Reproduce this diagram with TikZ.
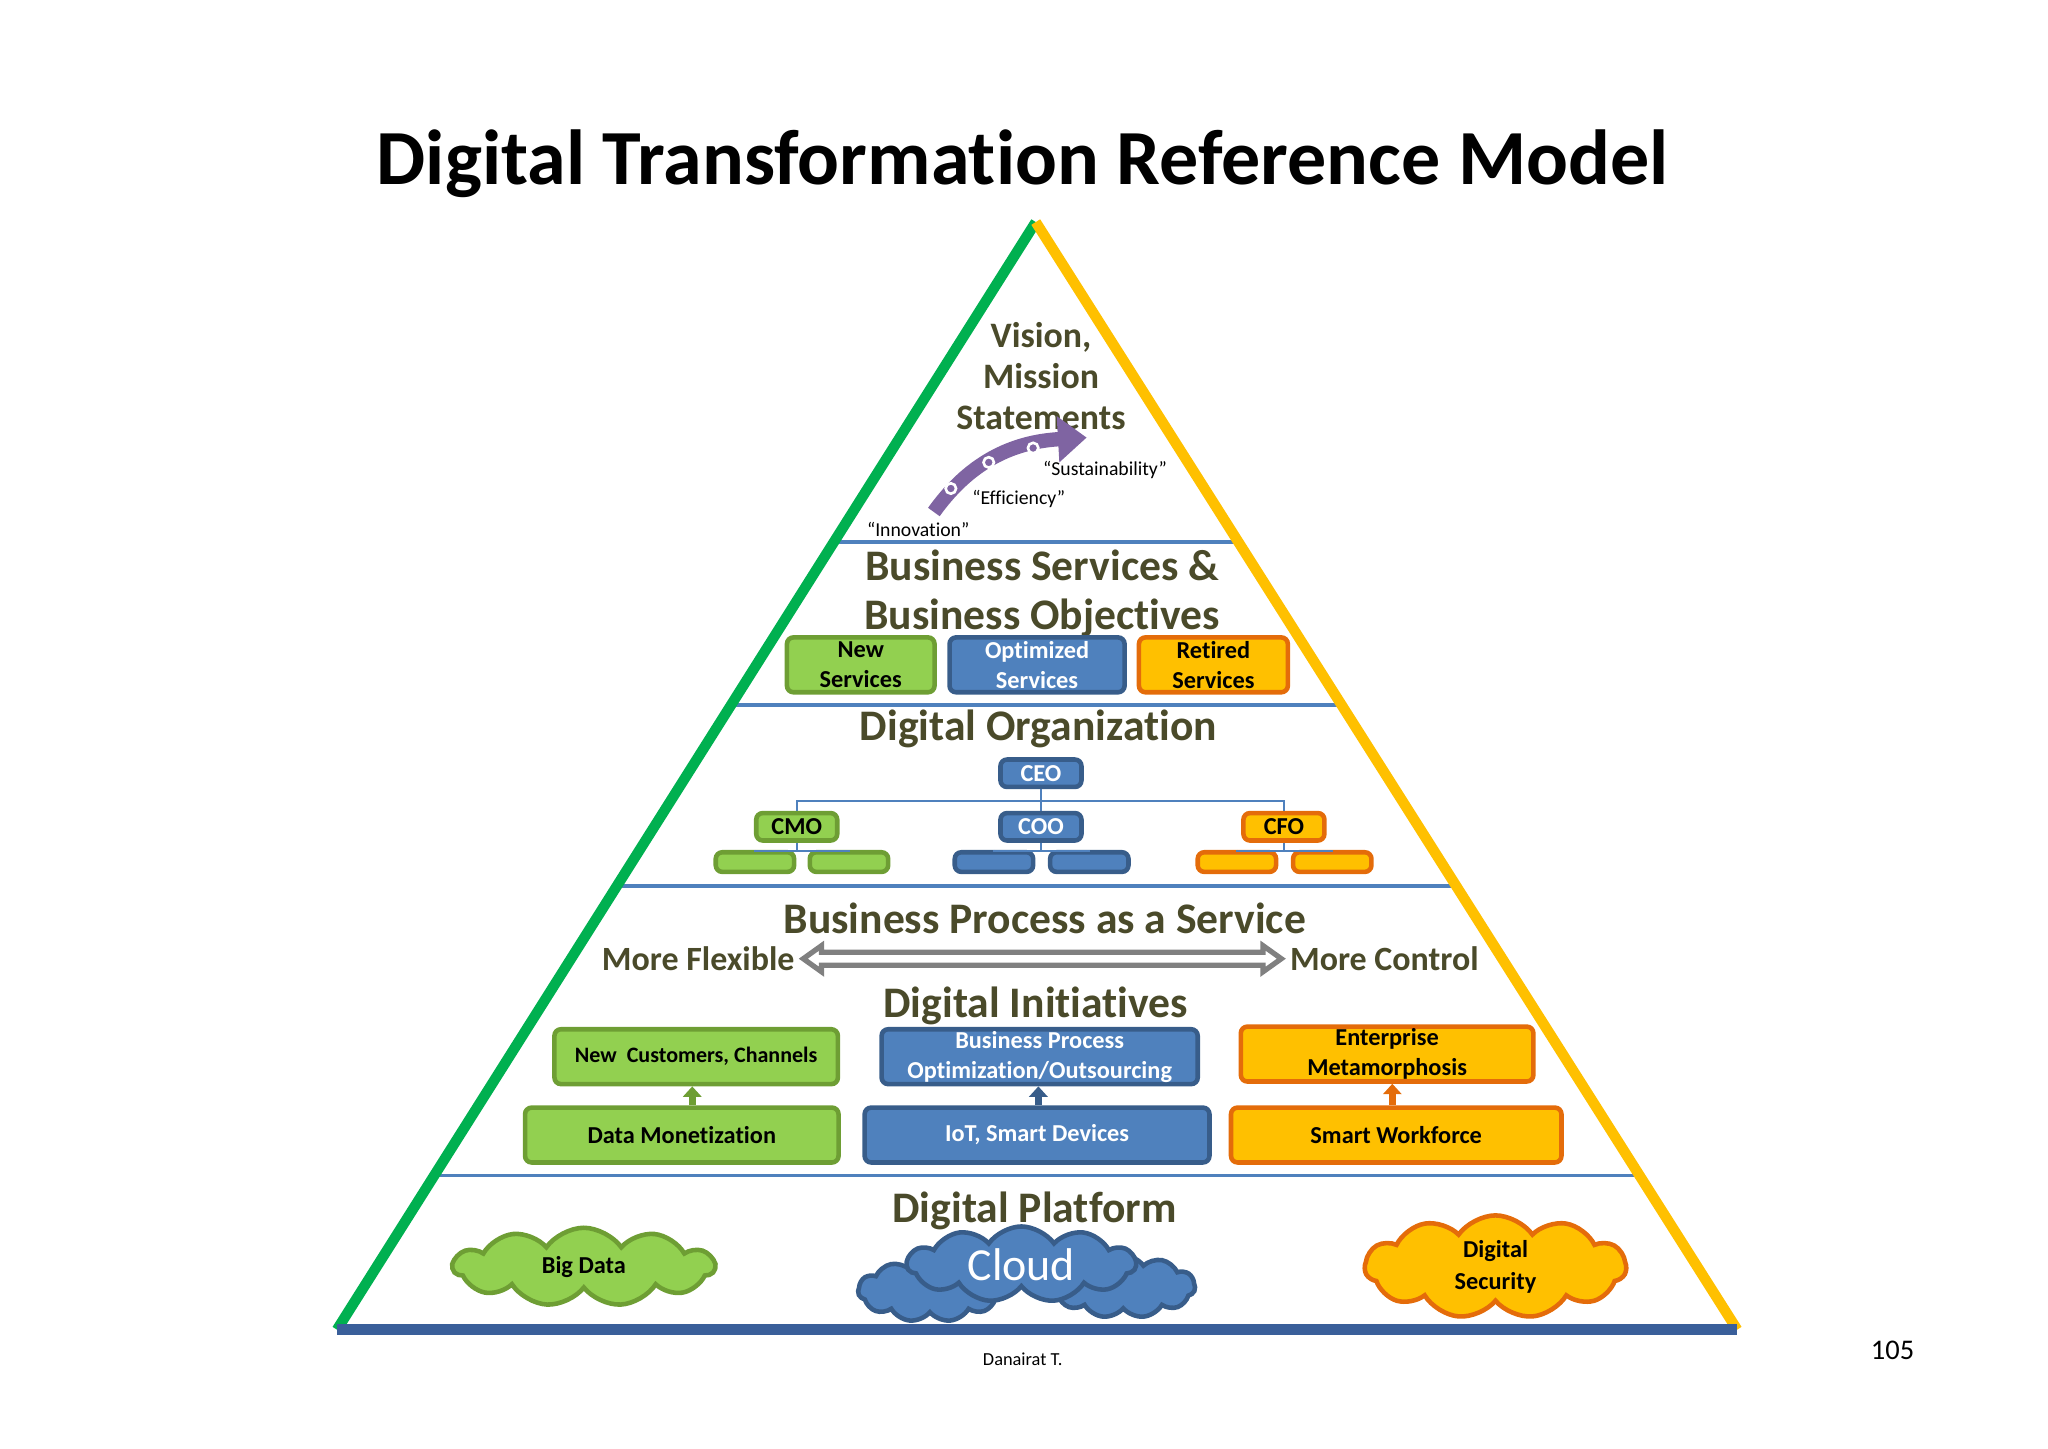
\documentclass[tikz,border=0pt]{standalone}
\usepackage{fontspec}
\setmainfont[Ligatures={NoCommon}]{Carlito}
\usetikzlibrary{shapes.symbols,arrows.meta,calc}
\definecolor{gfill}{HTML}{92D050}\definecolor{gdraw}{HTML}{6E9E34}
\definecolor{bfill}{HTML}{4F81BD}\definecolor{bdraw}{HTML}{385D8A}
\definecolor{yfill}{HTML}{FFC000}\definecolor{ydraw}{HTML}{E46C0A}
\definecolor{olive}{HTML}{4A4A2A}\definecolor{tgreen}{HTML}{00B050}
\definecolor{purp}{HTML}{7F64A2}\definecolor{base}{HTML}{3A5F9A}
\tikzset{
 gbox/.style={draw=gdraw,fill=gfill,line width=0.35mm,rounded corners=0.5mm,text=black,font=\bfseries\fontsize{5.3}{6.5}\selectfont,align=center,inner sep=0pt},
 bbox/.style={gbox,draw=bdraw,fill=bfill,text=white},
 ybox/.style={gbox,draw=ydraw,fill=yfill},
 head/.style={text=olive,font=\bfseries\fontsize{9.5}{11.2}\selectfont},
 sep/.style={draw=bfill,line width=0.3mm},
 org/.style={draw=bfill,line width=0.15mm},
 upar/.style={-{Triangle[length=0.8mm,width=1.4mm]},line width=0.5mm},
}
\begin{document}
\begin{tikzpicture}[x=0.1mm,y=-0.1mm]
\useasboundingbox (0,0) rectangle (1568,1109);
\node[font=\bfseries\fontsize{17}{19}\selectfont] (title) at (783,125) {Digital Transformation Reference Model};
% separators
\draw[sep] (638,415) -- (948,415);
\draw[sep] (559,540) -- (1027,540);
\draw[sep] (472,678) -- (1114,678);
\draw[sep] (332,900) -- (1254,900);
% triangle
\coordinate (apex) at (793,170);
\coordinate (bl) at (258,1018);
\coordinate (br) at (1330,1018);
\draw[tgreen,line width=0.8mm] (bl) -- (apex);
\draw[yfill,line width=0.8mm] (apex) -- (br);
\draw[base,line width=0.8mm] (bl) -- (br);
% top
\node[head,font=\bfseries\fontsize{7.8}{9}\selectfont,align=center] (vision) at (797,288) {Vision,\\Mission\\Statements};
\coordinate (pa) at (715,392); \coordinate (pb) at (832,335);
\draw[purp,line width=1.1mm,-{Triangle[length=2.2mm,width=3.4mm]}] (pa) .. controls (745,350) and (780,338) .. (pb);
\foreach \p in {(728,374),(757,354),(791,343)} \draw[white,fill=purp,line width=0.2mm] \p circle (4);
\tikzset{qt/.style={font=\fontsize{4.3}{5}\selectfont}}
\node[qt] (q1) at (703,405) {“Innovation”};
\node[qt] (q2) at (780,382) {“Efficiency”};
\node[qt] (q3) at (846,360) {“Sustainability”};
% business services
\node[head] (bs1) at (798,433) {Business Services \&};
\node[head] (bs2) at (798,473) {Business Objectives};
\node[gbox,minimum width=113*0.1mm,minimum height=42*0.1mm] (ns) at (659,509) {New\\Services};
\node[bbox,minimum width=134*0.1mm,minimum height=42*0.1mm] (os) at (794,509) {Optimized\\Services};
\node[ybox,minimum width=114*0.1mm,minimum height=42*0.1mm] (rs) at (929,509) {Retired\\Services};
% digital org
\node[head] (dorg) at (795,558) {Digital Organization};
\tikzset{ob/.style={minimum width=62*0.1mm,minimum height=21*0.1mm}, sb/.style={minimum width=60*0.1mm,minimum height=15*0.1mm}}
\node[bbox,ob] (ceo) at (797,592) {CEO};
\node[gbox,ob] (cmo) at (610,633) {CMO};
\node[bbox,ob] (coo) at (797,633) {COO};
\node[ybox,ob] (cfo) at (983,633) {CFO};
\draw[org] (ceo.south) -- (797,613);
\draw[org] (cmo.north) |- (797,613) -| (cfo.north);
\draw[org] (797,613) -- (coo.north);
\node[gbox,sb] (g1) at (578,660) {}; \node[gbox,sb] (g2) at (650,660) {};
\node[bbox,sb] (b1) at (761,660) {}; \node[bbox,sb] (b2) at (834,660) {};
\node[ybox,sb] (y1) at (947,660) {}; \node[ybox,sb] (y2) at (1020,660) {};
\foreach \a/\l/\r in {cmo/g1/g2,coo/b1/b2,cfo/y1/y2}{
 \draw[org] (\a.south) -- ++(0,6) coordinate (m\a);
 \draw[org] (\l.north) |- (m\a) -| (\r.north);}
% BPaaS
\node[head] (bpaas) at (800,703) {Business Process as a Service};
\node[head,font=\bfseries\fontsize{7.4}{8}\selectfont,anchor=east,inner sep=0pt] (flex) at (609,734) {More Flexible};
\node[head,font=\bfseries\fontsize{7.4}{8}\selectfont,anchor=west,inner sep=0pt] (ctrl) at (987,734) {More Control};
\draw[gray,line width=0.4mm,fill=white] ($(flex.east)+(6,0)$) -- ++(14,-10) -- ++(0,5) -- ($(ctrl.west)+(-20,-5)$) -- ++(0,-5) -- ($(ctrl.west)+(-6,0)$) -- ++(-14,10) -- ++(0,-5) -- ($(flex.east)+(20,5)$) -- ++(0,5) -- cycle;
% initiatives
\node[head] (dinit) at (793,770) {Digital Initiatives};
\node[gbox,minimum width=217*0.1mm,minimum height=42*0.1mm,font=\bfseries\fontsize{4.8}{6}\selectfont] (ncc) at (533,809) {New\ \ Customers, Channels};
\node[bbox,minimum width=242*0.1mm,minimum height=42*0.1mm] (bpo) at (796,809) {Business Process\\Optimization/Outsourcing};
\node[ybox,minimum width=224*0.1mm,minimum height=42*0.1mm] (em) at (1062,807) {Enterprise\\Metamorphosis};
\node[gbox,minimum width=240*0.1mm,minimum height=42*0.1mm] (dm) at (522,869) {Data Monetization};
\node[bbox,minimum width=264*0.1mm,minimum height=42*0.1mm] (iot) at (794,869) {IoT, Smart Devices};
\node[ybox,minimum width=253*0.1mm,minimum height=42*0.1mm] (sw) at (1069,869) {Smart Workforce};
\draw[upar,gdraw] (dm.north-|530,0) -- (ncc.south-|530,0);
\draw[upar,bdraw] (iot.north-|795,0) -- (bpo.south-|795,0);
\draw[upar,ydraw] (sw.north-|1066,0) -- (em.south-|1066,0);
% platform
\node[head] (dplat) at (792,927) {Digital Platform};
\tikzset{cl/.style={cloud,cloud puffs=11,cloud puff arc=110,line width=0.35mm,aspect=3,inner sep=0pt}}
\node[cl,draw=gdraw,fill=gfill,minimum width=200*0.1mm,minimum height=60*0.1mm,font=\bfseries\fontsize{5.3}{6.5}\selectfont] (bd) at (447,970) {Big Data};
\node[cl,draw=bdraw,fill=bfill,minimum width=110*0.1mm,minimum height=48*0.1mm] (c1) at (712,988) {};
\node[cl,draw=bdraw,fill=bfill,minimum width=110*0.1mm,minimum height=48*0.1mm] (c2) at (860,985) {};
\node[cl,draw=bdraw,fill=bfill,minimum width=175*0.1mm,minimum height=58*0.1mm,text=white,font=\fontsize{10}{12}\selectfont] (cloud) at (782,968) {Cloud};
\node[cl,draw=ydraw,fill=yfill,minimum width=200*0.1mm,minimum height=62*0.1mm,align=center,font=\bfseries\fontsize{5.3}{6.8}\selectfont] (ds) at (1145,970) {Digital\\Security};
\node[font=\fontsize{4}{5}\selectfont] (auth) at (783,1041) {Danairat T.};
\node[font=\fontsize{6.2}{7}\selectfont] (pg) at (1449,1034) {105};
\end{tikzpicture}
\end{document}
